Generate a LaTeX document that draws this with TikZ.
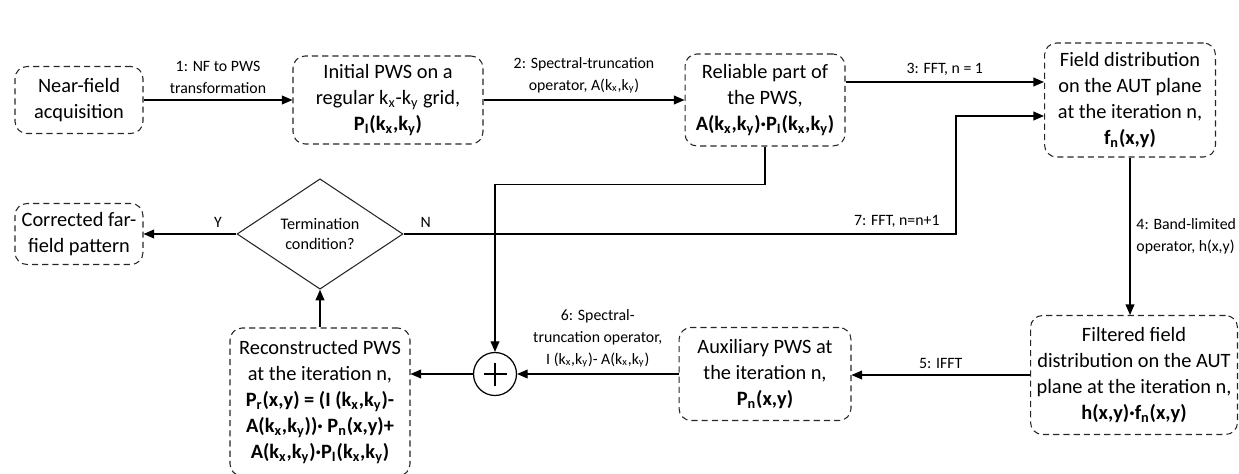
\documentclass[tikz,border=0pt]{standalone}
\usepackage{fontspec}
\setmainfont{Carlito}
\usetikzlibrary{arrows.meta,shapes.geometric}
\newcommand{\kxy}{(k\textsubscript{x},k\textsubscript{y})}
\tikzset{
  stage/.style={draw=black!85, dash pattern=on 3.5pt off 2.3pt, line width=0.6pt,
    rounded corners=0.24cm, align=center, inner sep=0pt,
    font=\fontsize{11.6}{14.7}\selectfont},
  decision/.style={draw=black!85, diamond, line width=0.6pt, align=center,
    inner sep=0pt, font=\fontsize{9.2}{11.5}\selectfont},
  flow/.style={-{Triangle[length=6pt,width=5pt]}, line width=0.7pt},
  lbl/.style={font=\fontsize{9}{12.5}\selectfont, align=center},
}
\begin{document}
\begin{tikzpicture}[x=0.02cm, y=-0.02cm]
  \useasboundingbox (0,0) rectangle (1239,473);

  \node[stage, minimum width=2.56cm, minimum height=1.34cm] at (79,100) (nf) {Near-field\\acquisition};
  \node[stage, minimum width=3.8cm, minimum height=1.76cm] at (388,100) (init) {Initial PWS on a\\regular k\textsubscript{x}-k\textsubscript{y} grid,\\\textbf{P\textsubscript{I}\kxy}};
  \node[stage, minimum width=3.2cm, minimum height=1.84cm] at (765,100) (rel) {Reliable part of\\the PWS,\\\textbf{A\kxy·P\textsubscript{I}\kxy}};
  \node[stage, minimum width=3.42cm, minimum height=2.28cm] at (1130,100) (fld) {Field distribution\\on the AUT plane\\at the iteration n,\\\textbf{f\textsubscript{n}(x,y)}};
  \node[stage, minimum width=2.56cm, minimum height=1.22cm] at (79,234) (far) {Corrected far-\\field pattern};
  \node[decision, minimum width=3.32cm, minimum height=1.96cm] at (320,234) (term) {Termination\\condition?};
  \node[stage, minimum width=3.6cm, minimum height=2.96cm] at (320,402) (rec) {Reconstructed PWS\\at the iteration n,\\\textbf{P\textsubscript{r}(x,y) = (I \kxy-}\\\textbf{A\kxy)· P\textsubscript{n}(x,y)+}\\\textbf{A\kxy·P\textsubscript{I}\kxy}};
  \node[draw, circle, line width=0.7pt, minimum size=0.86cm] at (495,374) (plus) {};
  \node[stage, minimum width=3.44cm, minimum height=1.86cm] at (765,374) (aux) {Auxiliary PWS at\\the iteration n,\\\textbf{P\textsubscript{n}(x,y)}};
  \node[stage, minimum width=4.14cm, minimum height=2.38cm] at (1134,375) (filt) {Filtered field\\distribution on the AUT\\plane at the iteration n,\\\textbf{h(x,y)·f\textsubscript{n}(x,y)}};

  \draw[line width=0.7pt] ([xshift=-0.23cm]plus.center) -- ([xshift=0.23cm]plus.center);
  \draw[line width=0.7pt] ([yshift=-0.23cm]plus.center) -- ([yshift=0.23cm]plus.center);

  \coordinate (r3) at ([yshift=0.36cm]rel.east);
  \coordinate (f7) at ([yshift=-0.32cm]fld.west);
  \coordinate (bend7) at (956,234);

  \draw[flow] (nf) -- node[lbl, above] {1: NF to PWS\\transformation} (init);
  \draw[flow] (init) -- node[lbl, above] {2: Spectral-truncation\\operator, A\kxy} (rel);
  \draw[flow] (r3) -- node[lbl, above] {3: FFT, n = 1} (r3 -| fld.west);
  \draw[flow] (fld.south) -- node[lbl, right, align=left] {4: Band-limited\\operator, h(x,y)} (fld.south |- filt.north);
  \draw[flow] (filt.west) -- node[lbl, above] {5: IFFT} (filt.west -| aux.east);
  \draw[flow] (aux) -- node[lbl, above] {6: Spectral-\\truncation operator,\\I \kxy- A\kxy} (plus);
  \draw[flow] (plus.west) -- (plus.west -| rec.east);
  \draw[flow] (rel.south) -- ++(0,38) -| (plus.north);
  \draw[flow] (rec) -- (term);
  \draw[flow] (term) -- node[lbl, above, pos=0.2] {Y} (far);
  \draw[flow] (term.east) -- node[lbl, above, pos=0.04] {N} (bend7)
    node[lbl, above left, xshift=-0.2cm] {7: FFT, n=n+1} |- (f7);
\end{tikzpicture}
\end{document}
